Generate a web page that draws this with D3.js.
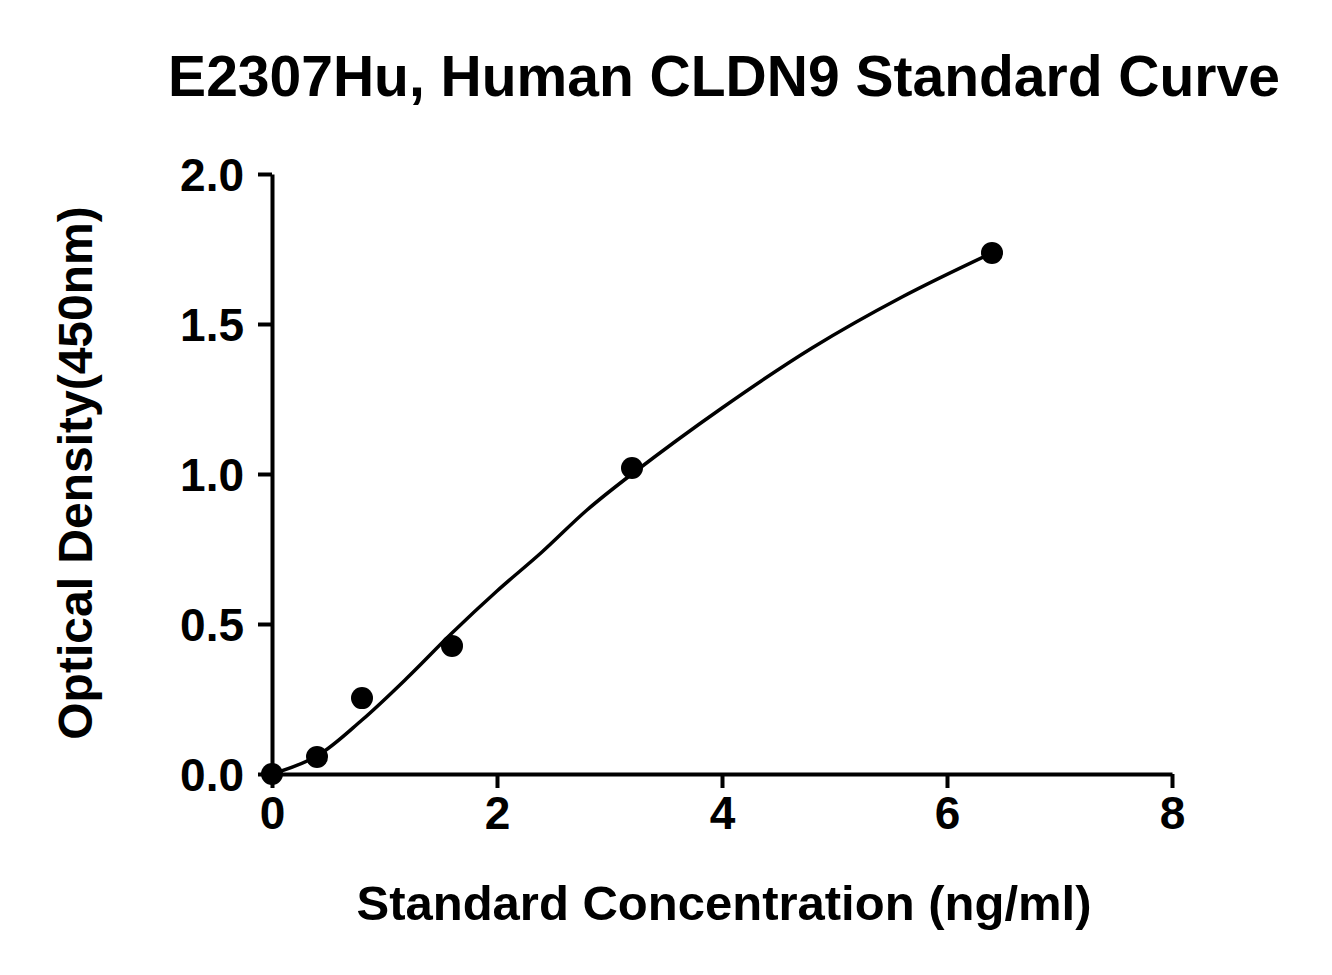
<!DOCTYPE html>
<html><head><meta charset="utf-8">
<script src="https://cdn.jsdelivr.net/npm/d3@7.9.0/dist/d3.min.js"></script>
<style>body{margin:0;background:#fff}svg{font-family:"Liberation Sans",Arial,sans-serif;font-weight:bold}</style>
</head><body><svg width="1332" height="975"></svg>
<script>
// measured standards
const concentrations = [0, 0.4, 0.8, 1.6, 3.2, 6.4];
const densities = [0.0, 0.057, 0.253, 0.427, 1.02, 1.737];
// fitted curve
const curveX = [0, 0.4, 0.8, 1.2, 1.6, 2, 2.4, 2.8, 3.2, 4, 4.8, 5.6, 6.4];
const curveY = [0, 0.06, 0.18, 0.32, 0.47, 0.61, 0.74, 0.88, 1.0, 1.22, 1.42, 1.59, 1.737];
const xTicks = [0, 2, 4, 6, 8];
const yTicks = [0, 0.5, 1.0, 1.5, 2.0];

const svg = d3.select('svg');
const x = d3.scaleLinear().domain([0, 8]).range([272, 1172]);
const y = d3.scaleLinear().domain([0, 2]).range([774, 174]);

const xAxis = svg.append('g').attr('transform', 'translate(0,774)')
  .call(d3.axisBottom(x).tickValues(xTicks).tickFormat(d3.format('d')).tickSize(14).tickSizeOuter(0));
const yAxis = svg.append('g').attr('transform', 'translate(272,0)')
  .call(d3.axisLeft(y).tickValues(yTicks).tickFormat(d3.format('.1f')).tickSize(14).tickSizeOuter(0));
[xAxis, yAxis].forEach(a => {
  a.attr('font-size', 46);
  a.selectAll('path,line').attr('stroke', '#000').attr('stroke-width', 4);
  a.selectAll('text').attr('font-size', 46).attr('font-family', '"Liberation Sans",Arial,sans-serif')
    .attr('font-weight', 'bold').attr('fill', '#000');
});
xAxis.selectAll('text').attr('y', 22).attr('dy', '0.71em');
yAxis.selectAll('text').attr('x', -28).attr('dy', '0.36em');

svg.append('path')
  .datum(curveX.map((d, i) => [d, curveY[i]]))
  .attr('d', d3.line().x(d => x(d[0])).y(d => y(d[1])).curve(d3.curveCatmullRom))
  .attr('fill', 'none').attr('stroke', '#000').attr('stroke-width', 3.5);

svg.selectAll('circle.pt').data(concentrations).join('circle')
  .attr('cx', d => x(d)).attr('cy', (d, i) => y(densities[i])).attr('r', 11).attr('fill', '#000');

svg.append('text').attr('x', 724).attr('y', 96).attr('text-anchor', 'middle')
  .attr('font-size', 57).text('E2307Hu, Human CLDN9 Standard Curve');
svg.append('text').attr('x', 724).attr('y', 920).attr('text-anchor', 'middle')
  .attr('font-size', 49).text('Standard Concentration (ng/ml)');
svg.append('text').attr('transform', 'translate(92,473) rotate(-90)').attr('text-anchor', 'middle')
  .attr('font-size', 48).text('Optical Density(450nm)');
</script></body></html>
